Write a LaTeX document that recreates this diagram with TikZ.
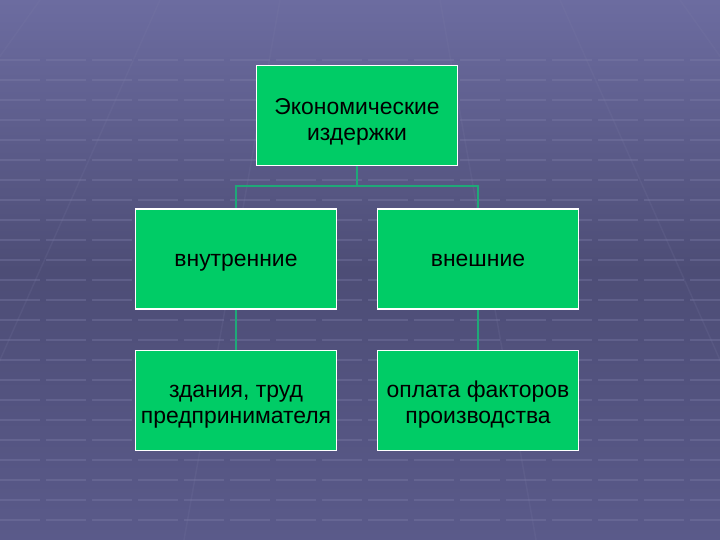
\documentclass[tikz,border=0pt]{standalone}
\usepackage{fontspec}
\setmainfont{Liberation Sans}
\usetikzlibrary{shapes, arrows}
\definecolor{boxgreen}{HTML}{00CC66}
\definecolor{linegreen}{HTML}{1FA878}
\definecolor{bgtop}{HTML}{6C6CA0}
\definecolor{bgmid}{HTML}{4D4D76}
\definecolor{bgbot}{HTML}{5A5A8A}
\definecolor{gridline}{HTML}{8080AA}
\tikzstyle{cost} = [rectangle, minimum width=201bp, minimum height=100bp, text centered, align=center, draw=white, line width=1.5bp, fill=boxgreen, font=\fontsize{23}{26}\selectfont]
\tikzstyle{link} = [linegreen, line width=1.5bp]

\begin{document}
\begin{tikzpicture}[x=1bp, y=-1bp]

% Background
\useasboundingbox (0,0) rectangle (720,540);
\shade [top color=bgtop, bottom color=bgbot, middle color=bgmid] (0,0) rectangle (720,540);
\foreach \y in {60,80,...,520}
  \draw [gridline, opacity=0.35, line width=1.5bp, dash pattern=on 40bp off 6bp] (0,\y) -- (720,\y);
\foreach \x in {40,160,280,440,560,680}
  \draw [gridline, opacity=0.15, line width=1.5bp] (\x,0) -- ({360+(\x-360)*2.2},540);

% Nodes
\node (costs) [cost] at (357,115.5) {\rule{0pt}{28bp}Экономические\\издержки};
\node (inner) [cost] at (236,259) {\rule[-5bp]{0pt}{26bp}внутренние};
\node (outer) [cost] at (478,259) {\rule[-5bp]{0pt}{26bp}внешние};
\node (buildings) [cost] at (236,400.5) {\rule{0pt}{24bp}здания, труд\\предпринимателя};
\node (factors) [cost] at (478,400.5) {\rule{0pt}{24bp}оплата факторов\\производства};

% Connectors
\coordinate (split) at (357,186);
\draw [link] (costs.south) -- (split);
\draw [link] (split) -| (inner.north);
\draw [link] (split) -| (outer.north);
\draw [link] (inner) -- (buildings);
\draw [link] (outer) -- (factors);

\end{tikzpicture}
\end{document}
